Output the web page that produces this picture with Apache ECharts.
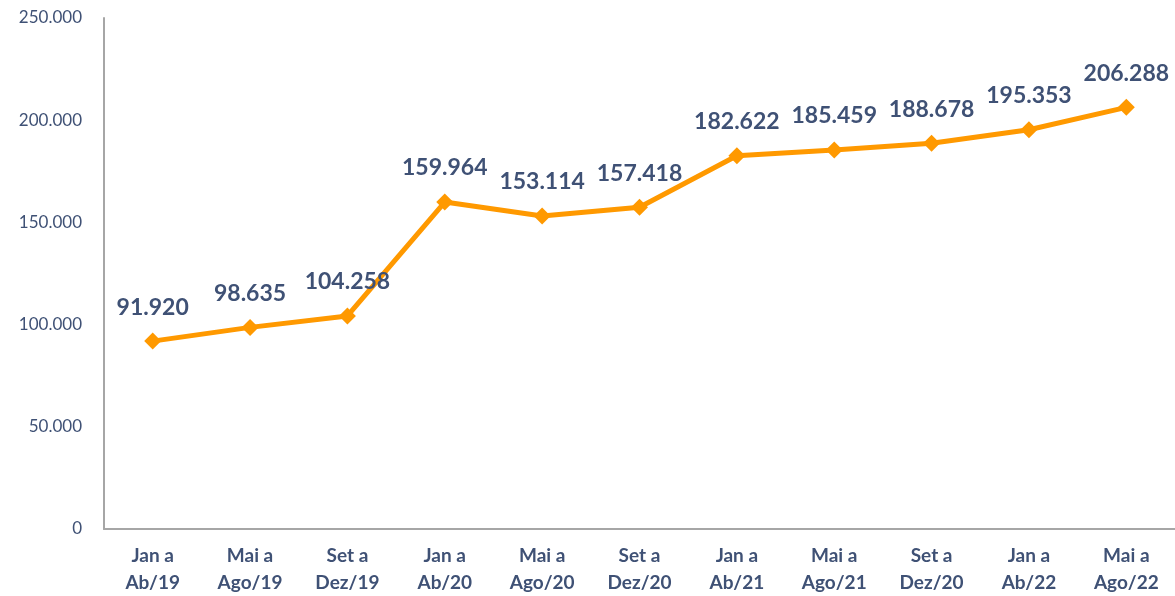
<!DOCTYPE html>
<html><head><meta charset="utf-8">
<script src="https://cdn.jsdelivr.net/npm/echarts@6/dist/echarts.min.js"></script>
<style>html,body{margin:0;padding:0;background:#fff}#c{width:1175px;height:596px}</style>
</head><body><div id="c"></div>
<script>
const categories = ["Jan a\nAb/19","Mai a\nAgo/19","Set a\nDez/19","Jan a\nAb/20","Mai a\nAgo/20","Set a\nDez/20","Jan a\nAb/21","Mai a\nAgo/21","Set a\nDez/20","Jan a\nAb/22","Mai a\nAgo/22"];
const values = [91920, 98635, 104258, 159964, 153114, 157418, 182622, 185459, 188678, 195353, 206288];
const yMin = 0, yMax = 250000, yInterval = 50000;

function fmt(v){ return String(v).replace(/\B(?=(\d{3})+(?!\d))/g, '.'); }

const chart = echarts.init(document.getElementById('c'));
chart.setOption({
  animation: false,
  grid: {left: 104, right: 0, top: 18, bottom: 65, containLabel: false},
  xAxis: {
    type: 'category', data: categories, boundaryGap: true,
    axisLine: {lineStyle: {color: '#A6A6A6', width: 2}},
    axisTick: {show: false},
    axisLabel: {color: '#3F5175', fontFamily: 'Lato', fontWeight: 'bold', fontSize: 19, lineHeight: 27, margin: 13, interval: 0}
  },
  yAxis: {
    type: 'value', min: yMin, max: yMax, interval: yInterval,
    axisLine: {show: true, lineStyle: {color: '#A6A6A6', width: 2}},
    axisTick: {show: false},
    splitLine: {show: false},
    axisLabel: {color: '#3F5175', fontFamily: 'Lato', fontSize: 17, margin: 22, formatter: v => fmt(v)}
  },
  series: [{
    type: 'line', data: values,
    lineStyle: {color: '#FF9900', width: 5},
    itemStyle: {color: '#FF9900'},
    symbol: 'diamond', symbolSize: 17,
    label: {show: true, position: 'top', distance: 14, color: '#3F5175', fontFamily: 'Lato', fontWeight: 'bold', fontSize: 23, formatter: p => fmt(p.value)}
  }]
});
</script></body></html>
